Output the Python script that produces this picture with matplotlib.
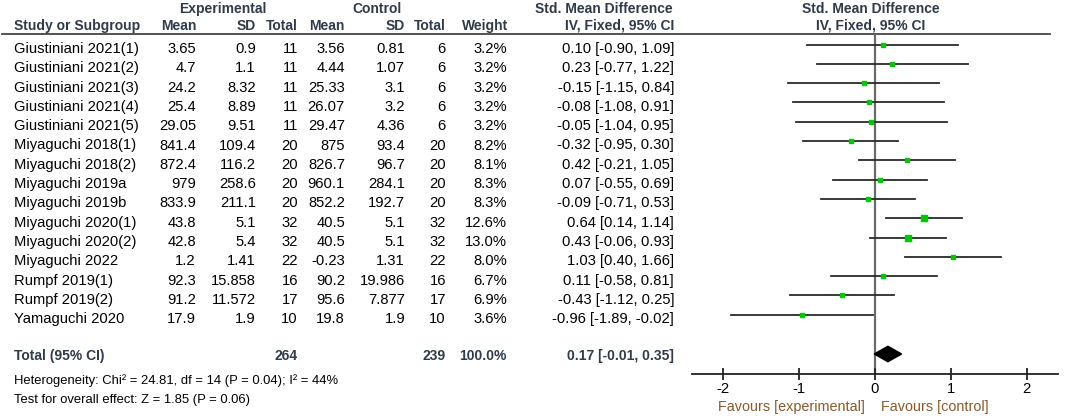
import matplotlib
matplotlib.use("Agg")
import matplotlib.pyplot as plt

studies = ["Giustiniani 2021(1)", "Giustiniani 2021(2)", "Giustiniani 2021(3)",
           "Giustiniani 2021(4)", "Giustiniani 2021(5)", "Miyaguchi 2018(1)",
           "Miyaguchi 2018(2)", "Miyaguchi 2019a", "Miyaguchi 2019b",
           "Miyaguchi 2020(1)", "Miyaguchi 2020(2)", "Miyaguchi 2022",
           "Rumpf 2019(1)", "Rumpf 2019(2)", "Yamaguchi 2020"]
exp_mean = ["3.65", "4.7", "24.2", "25.4", "29.05", "841.4", "872.4", "979", "833.9",
            "43.8", "42.8", "1.2", "92.3", "91.2", "17.9"]
exp_sd = ["0.9", "1.1", "8.32", "8.89", "9.51", "109.4", "116.2", "258.6", "211.1",
          "5.1", "5.4", "1.41", "15.858", "11.572", "1.9"]
exp_n = [11, 11, 11, 11, 11, 20, 20, 20, 20, 32, 32, 22, 16, 17, 10]
ctl_mean = ["3.56", "4.44", "25.33", "26.07", "29.47", "875", "826.7", "960.1", "852.2",
            "40.5", "40.5", "-0.23", "90.2", "95.6", "19.8"]
ctl_sd = ["0.81", "1.07", "3.1", "3.2", "4.36", "93.4", "96.7", "284.1", "192.7",
          "5.1", "5.1", "1.31", "19.986", "7.877", "1.9"]
ctl_n = [6, 6, 6, 6, 6, 20, 20, 20, 20, 32, 32, 22, 16, 17, 10]
weight = [3.2, 3.2, 3.2, 3.2, 3.2, 8.2, 8.1, 8.3, 8.3, 12.6, 13.0, 8.0, 6.7, 6.9, 3.6]
smd = [0.10, 0.23, -0.15, -0.08, -0.05, -0.32, 0.42, 0.07, -0.09, 0.64, 0.43, 1.03, 0.11, -0.43, -0.96]
ci_lo = [-0.90, -0.77, -1.15, -1.08, -1.04, -0.95, -0.21, -0.55, -0.71, 0.14, -0.06, 0.40, -0.58, -1.12, -1.89]
ci_hi = [1.09, 1.22, 0.84, 0.91, 0.95, 0.30, 1.05, 0.69, 0.53, 1.14, 0.93, 1.66, 0.81, 0.25, -0.02]
total_exp_n = 264
total_ctl_n = 239
total_smd, total_lo, total_hi = 0.17, -0.01, 0.35
x_ticks = [-2, -1, 0, 1, 2]

W, H = 1072, 416
fig = plt.figure(figsize=(W / 100, H / 100), dpi=100)
fig.patch.set_facecolor("white")

FONT = "Liberation Sans"
FS = 10.6
FSH = 10.0
FSF = 9.4
HEAD = "#2f3b4a"
BROWN = "#8a5a2c"

# pixel geometry: row r -> pixel y = Y0 + DY*r
Y0, DY = 44.5, 19.3

def r_of(py):
    return (py - Y0) / DY

tab = fig.add_axes([0, 0, 1, 1])
tab.set_xlim(0, W)
tab.set_ylim(r_of(H), r_of(0))
tab.axis("off")

BASE = 8.5 / DY  # baseline offset below the row line

def txt(x, r, s, ha="right", bold=False, color="black", fs=FS):
    tab.text(x, r, s, ha=ha, va="baseline", fontsize=fs, family=FONT,
             fontweight="bold" if bold else "normal", color=color)

# headers
h1 = r_of(13)
txt(223, h1, "Experimental", ha="center", bold=True, color=HEAD, fs=FSH)
txt(377, h1, "Control", ha="center", bold=True, color=HEAD, fs=FSH)
txt(673, h1, "Std. Mean Difference", ha="right", bold=True, color=HEAD, fs=FSH)
txt(871, h1, "Std. Mean Difference", ha="center", bold=True, color=HEAD, fs=FSH)
h2 = r_of(30)
txt(14, h2, "Study or Subgroup", ha="left", bold=True, color=HEAD, fs=FSH)
for x, s in [(196, "Mean"), (256, "SD"), (298, "Total"), (345, "Mean"),
             (405, "SD"), (446, "Total"), (508, "Weight"), (674, "IV, Fixed, 95% CI")]:
    txt(x, h2, s, bold=True, color=HEAD, fs=FSH)
txt(871, h2, "IV, Fixed, 95% CI", ha="center", bold=True, color=HEAD, fs=FSH)
tab.plot([2, 1050], [r_of(33.5), r_of(33.5)], color="#444444", lw=1.3)

for i in range(len(studies)):
    b = i + BASE
    txt(14, b, studies[i], ha="left")
    txt(196, b, exp_mean[i])
    txt(256, b, exp_sd[i])
    txt(298, b, str(exp_n[i]))
    txt(345, b, ctl_mean[i])
    txt(405, b, ctl_sd[i])
    txt(446, b, str(ctl_n[i]))
    txt(507, b, f"{weight[i]:.1f}%")
    txt(674, b, f"{smd[i]:.2f} [{ci_lo[i]:.2f}, {ci_hi[i]:.2f}]")

rt = r_of(360)
txt(14, rt, "Total (95% CI)", ha="left", bold=True, color=HEAD, fs=FSH)
txt(298, rt, str(total_exp_n), bold=True, color=HEAD, fs=FSH)
txt(446, rt, str(total_ctl_n), bold=True, color=HEAD, fs=FSH)
txt(507, rt, "100.0%", bold=True, color=HEAD, fs=FSH)
txt(674, rt, f"{total_smd:.2f} [{total_lo:.2f}, {total_hi:.2f}]", bold=True, color=HEAD, fs=FSH)
txt(14, r_of(384), "Heterogeneity: Chi\u00b2 = 24.81, df = 14 (P = 0.04); I\u00b2 = 44%", ha="left", fs=FSF)
txt(14, r_of(403), "Test for overall effect: Z = 1.85 (P = 0.06)", ha="left", fs=FSF)

# forest plot axes
x0p, x1p = 692, 1058
ytop, ybot = 33.5, 374
fa = fig.add_axes([x0p / W, (H - ybot) / H, (x1p - x0p) / W, (ybot - ytop) / H])
fa.set_xlim(-2.41, 2.41)
fa.set_ylim(r_of(ybot), r_of(ytop))
fa.patch.set_alpha(0)
for s in ["top", "left", "right"]:
    fa.spines[s].set_visible(False)
fa.spines["bottom"].set_color("#222222")
fa.spines["bottom"].set_linewidth(1.3)
fa.set_yticks([])
fa.set_xticks(x_ticks)
fa.set_xticklabels([str(t) for t in x_ticks], family=FONT, fontsize=FS)
fa.tick_params(axis="x", direction="inout", length=9, width=1.3, color="#222222", pad=1.5)
fa.axvline(0, color="#6a6a6a", lw=1.6, zorder=1)

for i in range(len(studies)):
    fa.plot([ci_lo[i], ci_hi[i]], [i, i], color="#2a2a2a", lw=1.3, zorder=2)
    sz = 2.3 + 0.12 * weight[i]
    fa.plot([smd[i]], [i], marker="s", ms=sz, color="#00c800", mec="#00c800", zorder=3)

rd = r_of(354)
hh = 0.40
fa.fill([total_lo, total_smd, total_hi, total_smd], [rd, rd - hh, rd, rd + hh],
        color="black", zorder=3)

tab.text(865, r_of(411), "Favours [experimental]", ha="right", va="baseline",
         fontsize=10.4, family=FONT, color=BROWN)
tab.text(881, r_of(411), "Favours [control]", ha="left", va="baseline",
         fontsize=10.4, family=FONT, color=BROWN)

fig.savefig("out.png", dpi=100, facecolor="white")
